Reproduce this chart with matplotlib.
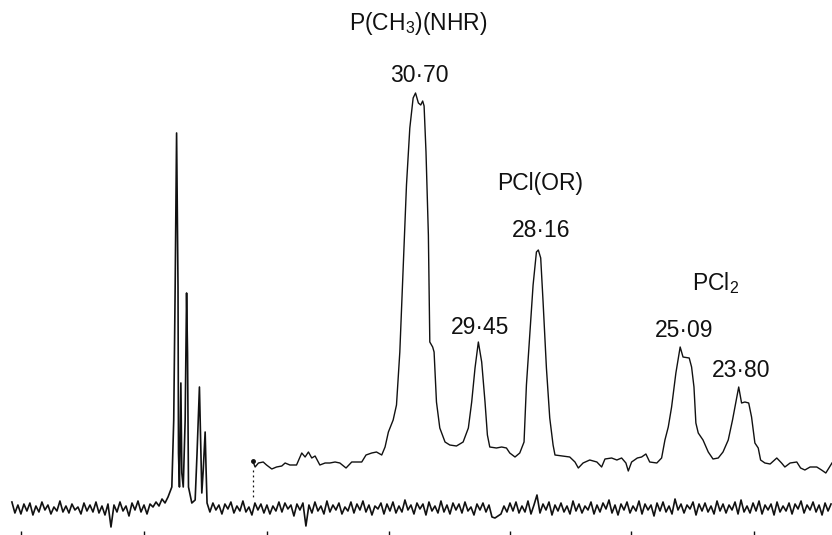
import numpy as np
import matplotlib
matplotlib.use("Agg")
import matplotlib.pyplot as plt

plt.rcParams['font.family'] = ['Liberation Sans', 'DejaVu Sans']
plt.rcParams['mathtext.fontset'] = 'custom'
plt.rcParams['mathtext.rm'] = 'Liberation Sans'
plt.rcParams['mathtext.it'] = 'Liberation Sans'
plt.rcParams['mathtext.bf'] = 'Liberation Sans'

# ---------------- data ----------------
# Expanded (upper) trace: chemical shift (ppm) and intensity (arbitrary units)
exp_ppm = [34.15, 34.10, 34.03, 33.93, 33.86, 33.75, 33.65, 33.54, 33.47, 33.37,
           33.23, 33.12, 33.05, 32.98, 32.91, 32.84, 32.74, 32.63, 32.53, 32.42,
           32.32, 32.19, 32.07, 31.86, 31.77, 31.65, 31.55, 31.44, 31.37, 31.30,
           31.20, 31.13, 31.06, 30.99, 30.92, 30.85, 30.78, 30.73, 30.67, 30.62,
           30.58, 30.55, 30.51, 30.46, 30.43, 30.37, 30.34, 30.29, 30.22, 30.11,
           30.01, 29.87, 29.73, 29.62, 29.55, 29.48, 29.41, 29.34, 29.27, 29.22,
           29.17, 29.03, 28.92, 28.82, 28.75, 28.64, 28.54, 28.45, 28.40, 28.33,
           28.26, 28.19, 28.15, 28.10, 28.05, 27.98, 27.91, 27.84, 27.80, 27.49,
           27.38, 27.31, 27.21, 27.07, 26.92, 26.82, 26.75, 26.61, 26.50, 26.40,
           26.31, 26.26, 26.19, 26.07, 25.98, 25.89, 25.81, 25.66, 25.56, 25.49,
           25.42, 25.35, 25.26, 25.17, 25.11, 24.98, 24.93, 24.88, 24.84, 24.79,
           24.69, 24.58, 24.48, 24.37, 24.27, 24.16, 24.07, 23.98, 23.94, 23.88,
           23.81, 23.73, 23.67, 23.60, 23.53, 23.48, 23.39, 23.28, 23.14, 23.04,
           22.97, 22.86, 22.72, 22.64, 22.55, 22.44, 22.30, 22.20, 22.11, 21.98]
exp_int = [47, 41, 45, 46, 43, 39, 41, 42, 45, 43,
           43, 55, 51, 56, 50, 52, 43, 45, 45, 46,
           45, 40, 46, 46, 53, 55, 56, 53, 61, 76,
           88, 103, 156, 240, 323, 380, 410, 415, 405, 403,
           407, 402, 356, 273, 166, 161, 156, 106, 80, 66,
           63, 62, 66, 80, 106, 140, 166, 146, 106, 73,
           61, 60, 61, 60, 55, 51, 55, 66, 123, 173,
           223, 256, 258, 250, 206, 140, 90, 63, 53, 51,
           46, 40, 45, 48, 46, 41, 49, 50, 48, 50,
           45, 37, 46, 50, 51, 54, 46, 45, 50, 68,
           81, 101, 135, 161, 151, 150, 141, 121, 85, 75,
           68, 56, 49, 50, 56, 68, 88, 111, 121, 105,
           106, 105, 91, 65, 60, 48, 45, 44, 50, 45,
           41, 45, 46, 40, 38, 41, 41, 38, 35, 45]

# Full (lower) trace: noise before the multiplet, the multiplet, noise after
noise_a_start, noise_a_end = 39.21, 35.93
noise_a = [6, -5, 3, -6, 4, -3, 5, -7, 2, -4,
           6, -2, 3, -6, 1, -3, 7, -4, 2, -5,
           4, -2, 1, -6, 5, -3, 3, -4, 6, -5,
           2, -7, 4, -19, 3, -4, 6, -3, 2, -8,
           5, -2, 7, -4, 3, -6, 4, 1, 6, 2,
           9, 5, 11]
mult_ppm = [35.85, 35.81, 35.78, 35.75, 35.72, 35.71, 35.69, 35.66, 35.64, 35.61,
            35.57, 35.54, 35.52, 35.50, 35.43, 35.36, 35.32, 35.27, 35.24, 35.22,
            35.19, 35.15, 35.13, 35.11]
mult_int = [21, 88, 221, 375, 221, 55, 21, 125, 35, 21,
            88, 215, 155, 21, 5, 8, 55, 121, 55, 15,
            38, 76, 38, 5]
noise_b_start, noise_b_end = 35.05, 22.00
noise_b = [-4, 5, -2, 3, -6, 4, -1, 6, -5, 2,
           -3, 7, -4, 1, -7, 5, -2, 4, -5, 3,
           -6, 2, -3, 6, -4, 5, -1, 3, -8, 4,
           -2, 5, -18, 3, -5, 6, -3, 2, -6, 7,
           -4, 3, -2, 5, -6, 1, -3, 6, -5, 4,
           -2, 7, -4, 3, -7, 2, -1, 5, -6, 4,
           -3, 6, -5, 2, -4, 8, -2, 3, -6, 5,
           -1, 4, -7, 6, -3, 2, -5, 7, -4, 3,
           -6, 5, -2, 4, -5, 6, -3, 1, -7, 4,
           -2, 5, -4, 3, -9, -10, -8, -6, 2, -4,
           5, -3, 6, -5, 2, -4, 7, -6, 3, 13,
           -5, 4, -2, 6, -7, 3, -3, 5, -4, 2,
           -6, 7, -3, 4, -5, 2, -2, 6, -6, 3,
           -4, 5, -1, 8, -5, 3, -7, 4, -2, 6,
           -5, 2, -3, 7, -6, 4, -2, 3, -8, 5,
           -3, 6, -4, 2, -6, 9, -2, 4, -5, 3,
           -1, 6, -7, 4, -3, 5, -4, 2, -6, 7,
           -3, 4, -5, 3, -2, 6, -6, 8, -4, 2,
           -5, 5, -3, 7, -6, 3, -2, 4, -7, 6,
           -4, 2, -3, 5, -6, 4, -1, 7, -5, 3,
           -2, 6, -4, 3, -7, 5, -3, 4]

# Peak labels
peak_labels = ["30·70", "29·45", "28·16", "25·09", "23·80"]
peak_label_ppm = [30.66, 29.38, 28.10, 25.09, 23.89]
peak_label_int = [426, 174, 271, 171, 131]
group_labels = ["P(CH$_3$)(NHR)", "PCl(OR)", "PCl$_2$"]
group_label_ppm = [30.68, 28.12, 24.42]
group_label_int = [478, 318, 218]

tick_ppm = [39.02, 36.44, 33.85, 31.29, 28.75, 26.20, 23.62]

# ---------------- figure ----------------
fig = plt.figure(figsize=(8.32, 5.35), dpi=100)
ax = fig.add_axes([0, 0, 1, 1])
ax.set_xlim(39.46, 21.98)
ax.set_ylim(-27, 508)

ink = '#111111'
low_ppm = np.concatenate([np.linspace(noise_a_start, noise_a_end, len(noise_a)),
                          mult_ppm,
                          np.linspace(noise_b_start, noise_b_end, len(noise_b))])
low_int = np.concatenate([noise_a, mult_int, noise_b])
ax.plot(low_ppm, low_int, color=ink, lw=1.2)

ax.plot(exp_ppm, exp_int, color=ink, lw=1.0)
ax.plot([exp_ppm[0]], [exp_int[0]], 'o', color=ink, ms=2.5)
ax.plot([exp_ppm[0], exp_ppm[0]], [exp_int[1] - 3, 11], color=ink, lw=0.9,
        linestyle=(0, (1.5, 2.5)))

for txt, xp, yi in zip(peak_labels, peak_label_ppm, peak_label_int):
    ax.text(xp, yi, txt, ha='center', va='baseline', fontsize=16.5, color=ink)
for txt, xp, yi in zip(group_labels, group_label_ppm, group_label_int):
    ax.text(xp, yi, txt, ha='center', va='baseline', fontsize=16.5, color=ink)

for s in ax.spines.values():
    s.set_visible(False)
ax.set_xticks(tick_ppm)
ax.tick_params(axis='x', direction='in', length=3, width=1, color=ink,
               labelbottom=False)
ax.set_yticks([])

fig.savefig('out.png', dpi=100)
